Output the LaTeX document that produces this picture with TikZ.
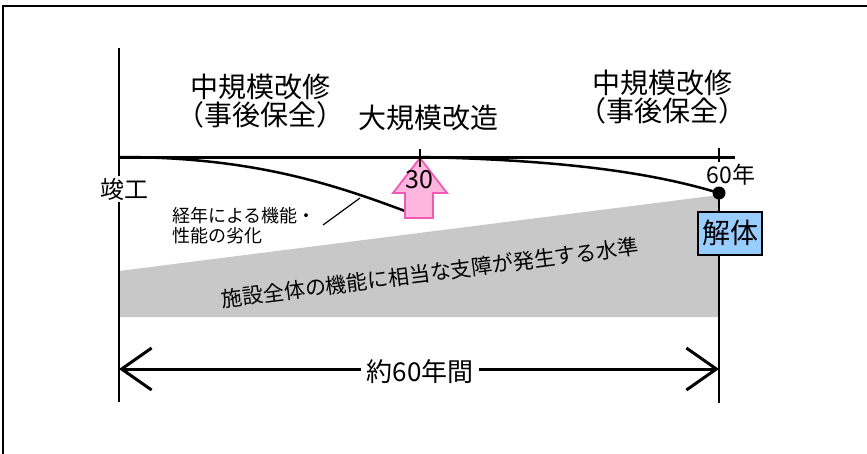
\documentclass[tikz,border=0pt]{standalone}
\usepackage{fontspec}
\setmainfont{Noto Sans CJK JP}
\usetikzlibrary{arrows.meta}
\definecolor{pinkfill}{RGB}{255,182,222}
\definecolor{pinkline}{RGB}{240,90,180}
\definecolor{boxblue}{RGB}{153,204,255}
\definecolor{bandgray}{RGB}{200,200,200}
\tikzset{
  lbl/.style={inner sep=0pt, align=center, font=\fontsize{28pt}{28pt}\selectfont},
  small/.style={inner sep=0pt, align=left, font=\fontsize{18pt}{20pt}\selectfont},
  axisline/.style={line width=2.5pt, black},
  curveline/.style={line width=2.5pt, black},
  dim/.style={line width=3pt, {Straight Barb[length=30pt,width=42pt,line width=3pt]}-{Straight Barb[length=30pt,width=42pt,line width=3pt]}},
}
\begin{document}
\begin{tikzpicture}[x=1pt,y=-1pt]
\useasboundingbox (0,0) rectangle (867,453);
\fill[white] (0,0) rectangle (867,453);
% frame (only top and left edges fall inside the picture)
\draw[line width=2.2pt] (3,470) -- (3,6) -- (880,6);

% coordinates
\coordinate (O) at (119,157);
\coordinate (E) at (719,157);
\coordinate (Eend) at (735,157);
\coordinate (Atop) at (119,48);
\coordinate (Abot) at (119,402);
\coordinate (Rbot) at (719,403);
\coordinate (DL) at (119,369);
\coordinate (DR) at (719,369);
\coordinate (C1end) at (405,211);
\coordinate (M) at (420,157);
\coordinate (Dot) at (719,193);

% gray band
\fill[bandgray] (119,271) -- (719,195) -- (719,317) -- (119,317) -- cycle;
\node[inner sep=0pt, rotate=7.3, font=\fontsize{21pt}{21pt}\selectfont] (band) at (430,273) {施設全体の機能に相当な支障が発生する水準};

% degradation curves
\draw[curveline] (O) .. controls (250,157) and (330,183) .. (C1end);
\draw[curveline] (M) .. controls (560,160) and (650,172) .. (Dot);

% pink arrow
\filldraw[fill=pinkfill, draw=pinkline, line width=1.8pt, line join=miter]
  (420,158) -- (447,193) -- (433,193) -- (433,218) -- (405,218) -- (405,193) -- (393,193) -- cycle;
\node[inner sep=0pt, font=\fontsize{25pt}{25pt}\selectfont] (n30) at (419,180) {30};

% axes
\draw[axisline] (Atop) -- (Abot);
\draw[line width=3pt] (O) -- (Eend);
\draw[line width=2pt] (420,149) -- (420,167);
\draw[line width=2pt] (719,148) -- (719,162);
\draw[axisline] (Dot) -- (Rbot);
\fill (Dot) circle (6.5pt);

% labels
\node[inner sep=2pt, fill=white, font=\fontsize{24pt}{24pt}\selectfont] (start) at (124,189) {竣工};
\node[inner sep=0pt, font=\fontsize{23pt}{23pt}\selectfont] (y60) at (731,175) {60年};
\node[lbl] (mid1) at (260,101) {中規模改修\\（事後保全）};
\node[lbl] (big) at (428,118) {大規模改造};
\node[lbl] (mid2) at (662,97) {中規模改修\\（事後保全）};
\node[small, anchor=west] (deg) at (172,226) {経年による機能・\\性能の劣化};
\draw[line width=1.2pt] (323,225) -- (360,198);

% demolition box
\node[draw, line width=2pt, fill=boxblue, minimum width=64pt, minimum height=43pt, inner sep=0pt, font=\fontsize{28pt}{28pt}\selectfont] (demo) at (730,233) {解体};

% span arrow
\draw[dim] (DL) -- (DR);
\node[inner xsep=6pt, inner ysep=1pt, fill=white, font=\fontsize{26pt}{26pt}\selectfont] (span) at (420,372) {約60年間};
\end{tikzpicture}
\end{document}
